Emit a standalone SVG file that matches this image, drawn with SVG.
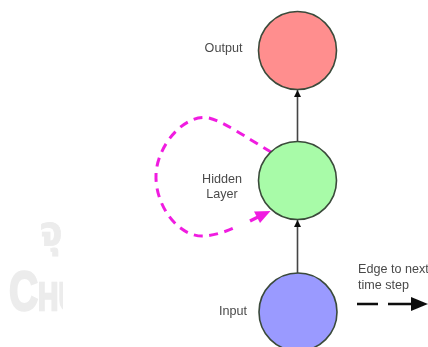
<svg xmlns="http://www.w3.org/2000/svg" width="428" height="347" viewBox="0 0 428 347">
<style>
text{font-family:"Liberation Sans",Arial,sans-serif;font-size:12.6px;fill:#4a4a4a}
.n{stroke:#3a4a3a;stroke-width:1.6}
.c{stroke:#444;stroke-width:1.6;fill:none}
.m{text-anchor:middle}
.w{font-weight:700;fill:#ececec;stroke:#ececec;stroke-width:2.4}
</style>
<defs>
<filter id="b" x="-5%" y="-5%" width="110%" height="110%"><feGaussianBlur stdDeviation="0.55"/></filter>
<clipPath id="wc"><rect x="0" y="200" width="63" height="120"/></clipPath>
<marker id="a" markerUnits="userSpaceOnUse" markerWidth="8" markerHeight="8" refX="7" refY="4" orient="auto"><path d="M0,0.5L7,4L0,7.5z" fill="#111"/></marker>
</defs>
<g filter="url(#b)">
<g id="watermark" clip-path="url(#wc)">
<text class="w" x="40" y="245" style="font-family:'Noto Sans Thai','DejaVu Sans',sans-serif;font-size:40px;stroke-width:.8">จุ</text>
<text class="w" transform="translate(9,310) scale(.72,1)"><tspan style="font-size:56px">C</tspan><tspan style="font-size:39px">HU</tspan></text>
</g>
<g id="connectors">
<path class="c" d="M297.5,142V90" marker-end="url(#a)"/>
<path class="c" d="M297.5,273V220" marker-end="url(#a)"/>
<path d="M271,152C250,140 225,122 209,118C185,113 157,145 156,175C155,205 178,238 205,236C216,235 228,231 238,226" fill="none" stroke="#f01ee0" stroke-width="3" stroke-dasharray="9 6.5"/>
<path d="M250,221L262,215" fill="none" stroke="#f01ee0" stroke-width="3.4"/>
<path d="M270.5,211L254,211.5L260,223z" fill="#f01ee0"/>
<path d="M357,304H378M388,304H412" stroke="#111" stroke-width="2.4" fill="none"/>
<path d="M411,297L428,304L411,311z" fill="#111"/>
</g>
<g id="output"><circle class="n" cx="297.5" cy="50.5" r="39" fill="#ff8e8e" stroke="#5a3a3a"/><text class="m" x="223.5" y="52">Output</text></g>
<g id="hidden"><circle class="n" cx="297.5" cy="180.5" r="39" fill="#a8fba8"/><text class="m" x="222" y="183">Hidden</text><text class="m" x="222" y="198">Layer</text></g>
<g id="input"><circle class="n" cx="298" cy="312" r="39" fill="#9a9aff" stroke="#3a3a5a"/><text class="m" x="233" y="315">Input</text></g>
<g id="legend"><text x="358" y="273">Edge to next</text><text x="358" y="289">time step</text></g>
</g>
</svg>
